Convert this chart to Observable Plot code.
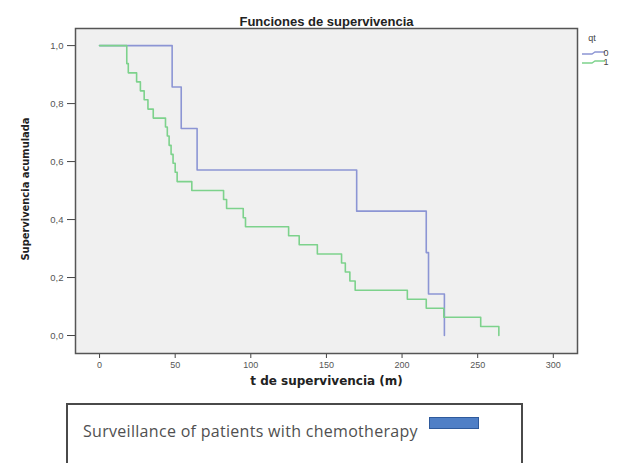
<!DOCTYPE html>
<html>
<head>
<meta charset="utf-8">
<script src="https://cdn.jsdelivr.net/npm/d3@7"></script>
<script src="https://cdn.jsdelivr.net/npm/@observablehq/plot@0.6"></script>
<style>
  html, body { margin: 0; padding: 0; background: #fff; width: 623px; height: 463px; overflow: hidden; }
  #wrap { position: relative; width: 623px; height: 463px; }
  #chart { position: absolute; left: 0; top: 0; }
  #box { position: absolute; left: 66px; top: 403px; width: 457px; height: 80px; border: 2px solid #4a4a4a; box-sizing: border-box; }
  #boxtext { position: absolute; left: 83px; top: 420px; font-family: "Open Sans", sans-serif; font-size: 16px; line-height: 22px; color: #505050; letter-spacing: 0.3px; white-space: nowrap; }
  #swatch { position: absolute; left: 429px; top: 417px; width: 48px; height: 10px; background: #4f7fc6; border: 1px solid #2e5a9c; }
</style>
</head>
<body>
<div id="wrap">
  <div id="chart"></div>
  <div id="box"></div>
  <div id="boxtext"></div>
  <div id="swatch"></div>
</div>
<script>
// ---- data ----
const title = "Funciones de supervivencia";
const xLabel = "t de supervivencia (m)";
const yLabel = "Supervivencia acumulada";
const legendTitle = "qt";
const groups = ["0", "1"];
const groupColors = ["#8c95d4", "#7dd28c"];
const boxText = "Surveillance of patients with chemotherapy";

const xTicks = [0, 50, 100, 150, 200, 250, 300];
const yTicks = [0, 0.2, 0.4, 0.6, 0.8, 1.0];

// qt = 0
const times0 = [0, 48, 54, 64.5, 170, 216, 217.5, 228];
const surv0  = [1.0, 0.857, 0.714, 0.571, 0.429, 0.286, 0.143, 0];

// qt = 1
const times1 = [0, 18, 19, 24.5, 27, 29.5, 32, 35.5, 43.6, 44.8, 46, 47.3, 48.6, 50, 51.3,
                61, 82, 84, 95, 96.5, 125, 132, 144, 160, 162.5, 165.5, 169,
                203.5, 216, 227.6, 252, 264];
const surv1  = [1.0, 0.938, 0.906, 0.875, 0.844, 0.813, 0.781, 0.75, 0.719, 0.688, 0.656, 0.625, 0.594, 0.563, 0.531,
                0.5, 0.469, 0.438, 0.406, 0.375, 0.344, 0.313, 0.281, 0.25, 0.219, 0.188, 0.156,
                0.125, 0.094, 0.063, 0.031, 0];

// ---- build ----
const rows0 = times0.map((t, i) => ({t, s: surv0[i], g: groups[0]}));
const rows1 = times1.map((t, i) => ({t, s: surv1[i], g: groups[1]}));

const fmtY = d => d3.format(".1f")(d).replace(".", ",");

const plot = Plot.plot({
  width: 623,
  height: 400,
  marginLeft: 75,
  marginRight: 46,
  marginTop: 28,
  marginBottom: 47,
  style: { fontFamily: "Liberation Sans, Arial, sans-serif", background: "transparent" },
  x: { domain: [-15.9, 316] },
  y: { domain: [-0.062, 1.059] },
  marks: [
    Plot.frame({ fill: "#f0f0f0", stroke: null }),
    Plot.axisX({ ticks: xTicks, tickSize: 5, tickPadding: 3, fontSize: 9, color: "#555", stroke: "#444", label: null }),
    Plot.axisY({ ticks: yTicks, tickFormat: fmtY, tickSize: 8, tickPadding: 4, fontSize: 9.5, color: "#555", stroke: "#444", label: null }),
    Plot.line(rows0, { x: "t", y: "s", curve: "step-after", stroke: groupColors[0], strokeWidth: 1.6 }),
    Plot.line(rows1, { x: "t", y: "s", curve: "step-after", stroke: groupColors[1], strokeWidth: 1.6 }),
    Plot.frame({ stroke: "#555", strokeWidth: 1.5 }),
    Plot.text([title], { frameAnchor: "top", dy: -12, fontSize: 13, fontWeight: "bold", fill: "#222" }),
    Plot.text([xLabel], { frameAnchor: "bottom", dy: 31, fontSize: 12, fontWeight: "bold", fill: "#222",
      fontFamily: "DejaVu Sans, Verdana, sans-serif" }),
    Plot.text([yLabel], { frameAnchor: "left", dx: -50, dy: -2, rotate: -90, textAnchor: "middle", fontSize: 11, fontWeight: "bold", fill: "#222",
      fontFamily: "Liberation Sans Narrow, DejaVu Sans Condensed, sans-serif" })
  ]
});
document.getElementById("chart").appendChild(plot);

// legend (qt)
const svg = d3.select(plot);
const lg = svg.append("g").attr("font-family", "Liberation Sans, Arial, sans-serif").attr("font-size", 9).attr("fill", "#444");
lg.append("text").attr("x", 592).attr("y", 41).text(legendTitle);
groups.forEach((g, i) => {
  const y = 53 + i * 9;
  lg.append("path")
    .attr("d", `M582,${y + 1} L592,${y + 1} L595,${y - 1} L605,${y - 1}`)
    .attr("fill", "none").attr("stroke", groupColors[i]).attr("stroke-width", 1.3);
  lg.append("text").attr("x", 606).attr("y", y + 3).text(g);
});

document.getElementById("boxtext").textContent = boxText;
</script>
</body>
</html>
